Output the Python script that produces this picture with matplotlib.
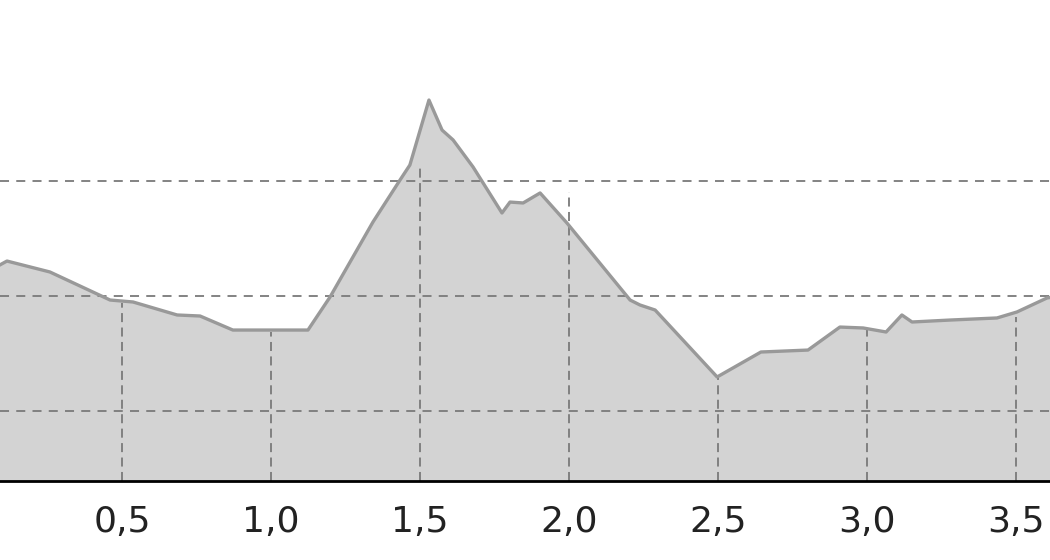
"""Höhenprofil als Flächendiagramm (grau), Nachbau des Referenzbildes."""
import matplotlib

matplotlib.use("Agg")
import matplotlib.pyplot as plt
from matplotlib.ticker import FuncFormatter

# --- Daten: Distanz (km) und Höhe ---
dist = [0.09, 0.114, 0.258, 0.460, 0.537, 0.685, 0.762, 0.872, 1.124, 1.198,
        1.342, 1.433, 1.466, 1.530, 1.574, 1.611, 1.678, 1.775, 1.802, 1.846,
        1.903, 1.993, 2.205, 2.238, 2.289, 2.497, 2.644, 2.802, 2.909, 2.987,
        3.064, 3.117, 3.151, 3.279, 3.436, 3.503, 3.604, 3.62]
elev = [22.70, 23.04, 22.09, 19.65, 19.48, 18.35, 18.26, 17.04, 17.04, 19.91,
        26.43, 30.09, 31.39, 37.04, 34.43, 33.57, 31.22, 27.22, 28.17, 28.09,
        28.96, 26.35, 19.65, 19.22, 18.78, 12.96, 15.13, 15.30, 17.30, 17.22,
        16.87, 18.35, 17.74, 17.91, 18.09, 18.61, 19.83, 19.9]

# Kilometermarken und die Höhe, bis zu der ihre Linie reicht
km_marks = [0.5, 1.0, 1.5, 2.0, 2.5, 3.0, 3.5]
mark_elev = [19.39, 16.87, 31.13, 29.04, 12.87, 17.22, 18.17]

# Höhenlinien im Hintergrund
grid_elev = [10, 20, 30]

y_min, y_max = 3.91, 45.74
x_min, x_max = 0.0906, 3.614

fig = plt.figure(figsize=(10.5, 5.6), dpi=100)
ax = fig.add_axes([0, 0.141, 1, 0.859])

ax.fill_between(dist, elev, y_min, facecolor="#d3d3d3", edgecolor="none", zorder=1)
ax.plot(dist, elev, color="#999999", lw=2.4, zorder=3, solid_joinstyle="round")

for g in grid_elev:
    ax.axhline(g, color="#7a7a7a", lw=1.3, ls=(0, (5, 4)), zorder=2)
ax.vlines(km_marks, y_min, mark_elev, color="#7a7a7a", lw=1.3,
          linestyles=[(0, (5, 3))], zorder=2)

ax.set_xlim(x_min, x_max)
ax.set_ylim(y_min, y_max)
ax.set_xticks(km_marks)
ax.xaxis.set_major_formatter(FuncFormatter(lambda v, _: ("%.1f" % v).replace(".", ",")))
ax.tick_params(axis="x", length=0, pad=17.5, labelsize=26, labelcolor="#222222")
ax.set_yticks([])

for s in ("top", "left", "right"):
    ax.spines[s].set_visible(False)
ax.spines["bottom"].set_color("black")
ax.spines["bottom"].set_linewidth(2)
ax.spines["bottom"].set_zorder(4)

fig.savefig("out.png", dpi=100)
